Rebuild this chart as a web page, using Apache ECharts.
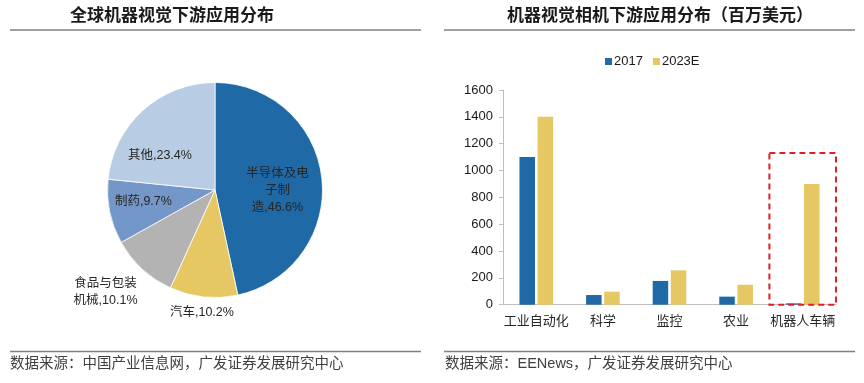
<!DOCTYPE html>
<html>
<head>
<meta charset="utf-8">
<script src="https://cdn.jsdelivr.net/npm/echarts@6/dist/echarts.min.js"></script>
<style>
html,body{margin:0;padding:0;background:#fff;}
#c{width:864px;height:383px;}
</style>
</head>
<body>
<div id="c"></div>
<script>
// ---- data ----
const pieTitle = '全球机器视觉下游应用分布';
const pieSource = '数据来源：中国产业信息网，广发证券发展研究中心';
const pieNames = ['半导体及电\n子制\n造', '汽车', '食品与包装\n机械', '制药', '其他'];
const pieValues = [46.6, 10.2, 10.1, 9.7, 23.4];

const barTitle = '机器视觉相机下游应用分布（百万美元）';
const barSource = '数据来源：EENews，广发证券发展研究中心';
const barCategories = ['工业自动化', '科学', '监控', '农业', '机器人车辆'];
const seriesNames = ['2017', '2023E'];
const values2017 = [1100, 72, 177, 60, 10];
const values2023E = [1400, 97, 256, 149, 900];
const highlightCategory = '机器人车辆';
const highlightTop = 1130;

// ---- styles ----
const FONT = "'Liberation Sans', 'Noto Sans CJK SC', sans-serif";
const pieColors = ['#1F69A6', '#E5C763', '#B3B3B3', '#7397C8', '#B8CDE4'];
const barColors = ['#1F69A6', '#E5C763'];
const pieLabelShift = [[6, 7], [-7, 66], [-71, 60], [-16, 0], [-17, 8]];

const chart = echarts.init(document.getElementById('c'), null, {renderer: 'canvas'});

const option = {
  animation: false,
  textStyle: {fontFamily: FONT},
  title: [
    {text: pieTitle, left: 70, top: 8, padding: 0, textStyle: {fontSize: 17, fontWeight: 'bold', color: '#1a1a1a', fontFamily: FONT}},
    {text: barTitle, left: 507, top: 8, padding: 0, textStyle: {fontSize: 17, fontWeight: 'bold', color: '#1a1a1a', fontFamily: FONT}},
    {text: pieSource, left: 10, top: 357, padding: 0, textStyle: {fontSize: 14.5, fontWeight: 'normal', color: '#404040', fontFamily: FONT}},
    {text: barSource, left: 445, top: 357, padding: 0, textStyle: {fontSize: 14.5, fontWeight: 'normal', color: '#404040', fontFamily: FONT}}
  ],
  legend: {
    data: seriesNames,
    left: 600, top: 50,
    itemWidth: 7, itemHeight: 7, itemGap: 10,
    icon: 'rect',
    textStyle: {fontSize: 13, color: '#1a1a1a', fontFamily: FONT, padding: [0, 0, 0, -3]}
  },
  grid: {left: 503, right: 28, top: 90, bottom: 78.3, containLabel: false},
  xAxis: {
    type: 'category',
    data: barCategories,
    axisLine: {lineStyle: {color: '#BFBFBF', width: 1}},
    axisTick: {show: false},
    axisLabel: {interval: 0, fontSize: 13, color: '#262626', margin: 10, fontFamily: FONT}
  },
  yAxis: {
    type: 'value',
    min: 0, max: 1600, interval: 200,
    axisLine: {show: true, lineStyle: {color: '#BFBFBF', width: 1}},
    axisTick: {show: true, length: 4, lineStyle: {color: '#BFBFBF'}},
    splitLine: {show: false},
    axisLabel: {fontSize: 13, color: '#1a1a1a', margin: 10, fontFamily: FONT, formatter: v => String(v)}
  },
  graphic: [
    {type: 'line', shape: {x1: 10, y1: 30, x2: 421, y2: 30}, style: {stroke: '#808080', lineWidth: 1.5}},
    {type: 'line', shape: {x1: 444, y1: 30, x2: 855, y2: 30}, style: {stroke: '#808080', lineWidth: 1.5}},
    {type: 'line', shape: {x1: 10, y1: 351.5, x2: 421, y2: 351.5}, style: {stroke: '#808080', lineWidth: 1.5}},
    {type: 'line', shape: {x1: 444, y1: 351.5, x2: 855, y2: 351.5}, style: {stroke: '#808080', lineWidth: 1.5}}
  ],
  series: [
    {
      type: 'pie',
      center: [215, 190],
      radius: 107.5,
      startAngle: 90,
      clockwise: true,
      silent: true,
      emphasis: {disabled: true},
      itemStyle: {borderColor: '#fff', borderWidth: 0.8},
      data: pieNames.map((n, i) => ({name: n, value: pieValues[i], itemStyle: {color: pieColors[i]}})),
      label: {
        show: true,
        position: 'inside',
        formatter: p => p.name + ',' + p.value + '%',
        fontSize: 12.5, lineHeight: 17, color: '#262626', fontFamily: FONT, align: 'center'
      },
      labelLine: {show: false},
      labelLayout: p => ({dx: pieLabelShift[p.dataIndex][0], dy: pieLabelShift[p.dataIndex][1]})
    },
    {
      name: seriesNames[0], type: 'bar', data: values2017,
      barWidth: 15.5, barGap: '17%',
      itemStyle: {color: barColors[0]},
      emphasis: {disabled: true}
    },
    {
      name: seriesNames[1], type: 'bar', data: values2023E,
      barWidth: 15.5, barGap: '17%',
      itemStyle: {color: barColors[1]},
      emphasis: {disabled: true}
    },
    {
      type: 'custom',
      silent: true,
      z: 10,
      data: [[highlightCategory, highlightTop]],
      renderItem: (params, api) => {
        const top = api.coord([api.value(0), api.value(1)]);
        const bot = api.coord([api.value(0), 0]);
        const w = api.size([1, 0])[0];
        return {
          type: 'rect',
          shape: {x: top[0] - w / 2, y: top[1], width: w, height: bot[1] - top[1]},
          style: {fill: 'none', stroke: '#E02020', lineWidth: 2, lineDash: [6, 4]}
        };
      }
    }
  ]
};
chart.setOption(option);
</script>
</body>
</html>
